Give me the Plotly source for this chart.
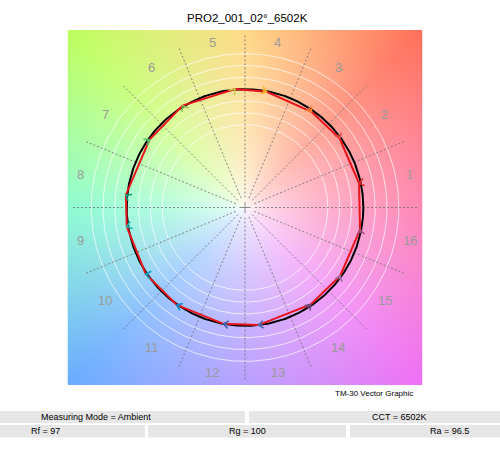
import numpy as np
import plotly.graph_objects as go

# ---------------- data ----------------
title_text = "PRO2_001_02°_6502K"
bins = [str(i) for i in range(1, 17)]
ref_hue = [12.0, 38.0, 57.5, 81.5, 95.5, 121.5, 146.0, 174.5, 189.0, 214.5, 236.5, 261.5, 278.5, 302.0, 322.5, 347.5]
ref_r = [1.0, 1.0, 1.0, 1.0, 0.995, 0.995, 1.0, 0.995, 0.995, 0.998, 1.0, 1.0, 1.0, 1.0, 1.0, 1.0]
test_hue = [12.0, 36.1, 55.2, 79.4, 94.9, 121.5, 144.6, 174.0, 189.2, 213.8, 235.0, 259.5, 276.5, 304.1, 324.4, 349.1]
test_r = [0.985, 0.99, 0.985, 0.995, 1.005, 1.01, 0.99, 1.012, 1.012, 1.01, 1.005, 1.0, 1.0, 0.99, 0.99, 0.99]
bin_colors = ["#e62828", "#e74b4b", "#fb812e", "#ffb529", "#cbca46", "#7eb94c", "#41c06d", "#009c7c",
              "#16bcb0", "#00a4bf", "#0085c3", "#3b62aa", "#4568ae", "#6a4e85", "#9d69a1", "#a74f81"]
measuring_mode = "Ambient"
cct = "6502K"
rf = "97"
rg = "100"
ra = "96.5"
caption = "TM-30 Vector Graphic"

# ---------------- geometry / style ----------------
W, H = 500, 450
L, R, T, B = 67, 77, 30, 65
PW, PH = W - L - R, H - T - B
LIM = 1.5


def px(x):
    return (x - L) / PW


def py(y):
    return (H - B - y) / PH


# background colour wheel
N = 240
step = 2 * LIM / N
c = -LIM + step * (np.arange(N) + 0.5)
X, Y = np.meshgrid(c, c)
ang = np.degrees(np.arctan2(Y, X)) % 360
anchor_ang = [0, 45, 90, 135, 180, 225, 270, 315, 360]
anchor_rgb = np.array([
    [255, 112, 165],
    [255, 112, 90],
    [255, 210, 110],
    [190, 255, 95],
    [120, 252, 200],
    [105, 172, 255],
    [170, 140, 255],
    [238, 112, 245],
    [255, 112, 165],
], dtype=float)
col = np.stack([np.interp(ang, anchor_ang, anchor_rgb[:, k]) for k in range(3)], axis=-1)
d = np.hypot(X, Y) / (LIM * np.sqrt(2))
s = np.clip(d, 0, 1) ** 0.55
img = 255 * (1 - s[..., None]) + col * s[..., None]
img = np.clip(img, 0, 255).astype(np.uint8)

fig = go.Figure()
fig.add_trace(go.Image(z=img, x0=c[0], y0=c[0], dx=step, dy=step, zsmooth="fast", hoverinfo="skip"))

# white guide circles
t = np.linspace(0, 2 * np.pi, 361)
for rr in [0.7, 0.8, 0.9, 1.1, 1.2, 1.3]:
    fig.add_trace(go.Scatter(x=rr * np.cos(t), y=rr * np.sin(t), mode="lines",
                             line=dict(color="rgba(255,255,255,0.7)", width=1), hoverinfo="skip"))

# dashed spokes
sx, sy = [], []
for k in range(16):
    a = np.radians(22.5 * k)
    sx += [0.085 * np.cos(a), 1.46 * np.cos(a), None]
    sy += [0.085 * np.sin(a), 1.46 * np.sin(a), None]
fig.add_trace(go.Scatter(x=sx, y=sy, mode="lines",
                         line=dict(color="rgba(110,110,110,0.8)", width=1, dash="2px,2px"), hoverinfo="skip"))

# centre cross
fig.add_trace(go.Scatter(x=[0], y=[0], mode="markers",
                         marker=dict(symbol="cross-thin", size=8, line=dict(color="#8a8a8a", width=1)),
                         hoverinfo="skip"))

# reference circle
fig.add_trace(go.Scatter(x=np.cos(t), y=np.sin(t), mode="lines",
                         line=dict(color="black", width=2), hoverinfo="skip"))

# test polygon
th = np.radians(test_hue)
tx = np.array(test_r) * np.cos(th)
ty = np.array(test_r) * np.sin(th)
fig.add_trace(go.Scatter(x=list(tx) + [tx[0]], y=list(ty) + [ty[0]], mode="lines",
                         line=dict(color="#e8151b", width=2), hoverinfo="skip"))

# arrows (reference -> test) drawn as chevron heads
rh = np.radians(ref_hue)
rx = np.array(ref_r) * np.cos(rh)
ry = np.array(ref_r) * np.sin(rh)
HL, HW = 0.042, 0.032
for i in range(16):
    ux, uy = tx[i] - rx[i], ty[i] - ry[i]
    n = np.hypot(ux, uy)
    ux, uy = ux / n, uy / n
    nx, ny = -uy, ux
    xs = [rx[i], tx[i], None, tx[i] - HL * ux + HW * nx, tx[i], tx[i] - HL * ux - HW * nx]
    ys = [ry[i], ty[i], None, ty[i] - HL * uy + HW * ny, ty[i], ty[i] - HL * uy - HW * ny]
    fig.add_trace(go.Scatter(x=xs, y=ys, mode="lines", line=dict(color=bin_colors[i], width=1.5),
                             hoverinfo="skip"))

ann = []
# bin labels
for i, b in enumerate(bins):
    a = np.radians(11.25 + 22.5 * i)
    ann.append(dict(x=1.42 * np.cos(a), y=1.42 * np.sin(a), xref="x", yref="y", text=b, showarrow=False,
                    xanchor="center", yanchor="middle",
                    font=dict(size=13, color="#9a9a9a", family="Liberation Sans, Arial")))

# title and caption
ann.append(dict(x=px(247), y=py(18), xref="paper", yref="paper", text=title_text, showarrow=False,
                xanchor="center", yanchor="middle",
                font=dict(size=11.5, color="black", family="Liberation Sans, Arial")))
ann.append(dict(x=px(415), y=py(393), xref="paper", yref="paper", text=caption, showarrow=False,
                xanchor="right", yanchor="middle",
                font=dict(size=8, color="black", family="Liberation Sans, Arial")))

# table
shapes = []
cells = [
    (0, 245, 411, 423), (249, 500, 411, 423),
    (0, 145, 425, 437.5), (148, 346, 425, 437.5), (350, 500, 425, 437.5),
]
for x0, x1, y0, y1 in cells:
    shapes.append(dict(type="rect", xref="paper", yref="paper", x0=px(x0), x1=px(x1), y0=py(y1), y1=py(y0),
                       fillcolor="#e6e6e6", line=dict(width=0), layer="above"))
texts = [
    ("Measuring Mode = " + measuring_mode, 96, 417),
    ("CCT = " + cct, 399, 417),
    ("Rf = " + rf, 45, 431),
    ("Rg = " + rg, 247, 431),
    ("Ra = " + ra, 449, 431),
]
for tt, xx, yy in texts:
    ann.append(dict(x=px(xx), y=py(yy), xref="paper", yref="paper", text=tt, showarrow=False,
                    xanchor="center", yanchor="middle",
                    font=dict(size=9, color="black", family="Liberation Sans, Arial")))

fig.update_layout(
    width=W, height=H, margin=dict(l=L, r=R, t=T, b=B),
    paper_bgcolor="white", plot_bgcolor="white", showlegend=False,
    xaxis=dict(range=[-LIM, LIM], visible=False, fixedrange=True),
    yaxis=dict(range=[-LIM, LIM], visible=False, fixedrange=True, autorange=False),
    annotations=ann, shapes=shapes,
)
fig.write_html("out.html")
